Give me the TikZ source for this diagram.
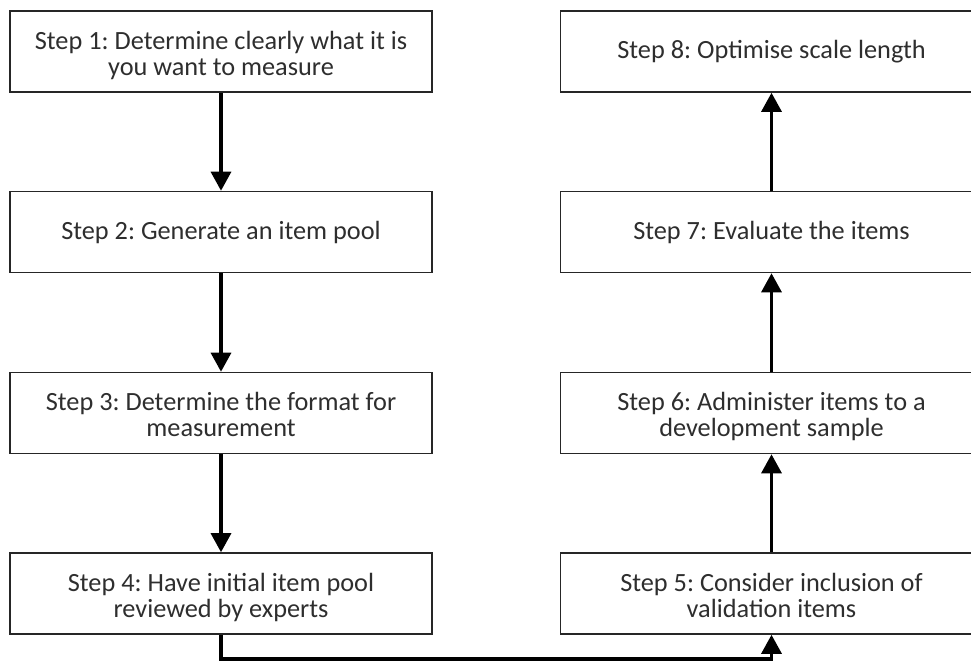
\documentclass[tikz,border=0pt]{standalone}
\usepackage{fontspec}
\setmainfont{Carlito}
\usetikzlibrary{arrows.meta}
% box text: centred lines, lowered a little inside the box
\newcommand\steptext[2][2pt]{\raisebox{-#1}[\height][\depth]{\begin{tabular}{@{}c@{}}#2\end{tabular}}}
\begin{document}
\frenchspacing
\begin{tikzpicture}[x=1pt,y=-1pt,
  stepbox/.style={draw=black!85, line width=1.6pt, fill=white,
    minimum width=422pt, minimum height=81pt, inner sep=0pt,
    text=black!82,
    font=\fontsize{26.3}{26}\selectfont},
  conn/.style={draw=black, line width=3.2pt,
    -{Triangle[width=20pt,length=19pt]}}]
  \useasboundingbox (0,0) rectangle (971,662);
  \clip (0,0) rectangle (971,662);
  % left column, top to bottom
  \node[stepbox] (s1) at (221,51.5)  {\steptext[5.5pt]{Step 1: Determine clearly what it is\\you want to measure}};
  \node[stepbox] (s2) at (221,232)   {\steptext{Step 2: Generate an item pool}};
  \node[stepbox] (s3) at (221,413)   {\steptext[5.5pt]{Step 3: Determine the format for\\measurement}};
  \node[stepbox] (s4) at (221,593.5) {\steptext[5.5pt]{Step 4: Have initial item pool\\reviewed by experts}};
  % right column, bottom to top
  \node[stepbox] (s5) at (771.5,593.5) {\steptext[5.5pt]{Step 5: Consider inclusion of\\validation items}};
  \node[stepbox] (s6) at (771.5,413)   {\steptext[5.5pt]{Step 6: Administer items to a\\development sample}};
  \node[stepbox] (s7) at (771.5,232)   {\steptext{Step 7: Evaluate the items}};
  \node[stepbox] (s8) at (771.5,51.5)  {\steptext{Step 8: Optimise scale length}};
  % connectors
  \draw[conn] (s1.south) -- (s2.north);
  \draw[conn] (s2.south) -- (s3.north);
  \draw[conn] (s3.south) -- (s4.north);
  \coordinate (turn) at (496,659);
  \draw[conn] (s4.south) |- (turn) -| (s5.south);
  \draw[conn] (s5.north) -- (s6.south);
  \draw[conn] (s6.north) -- (s7.south);
  \draw[conn] (s7.north) -- (s8.south);
\end{tikzpicture}
\end{document}
